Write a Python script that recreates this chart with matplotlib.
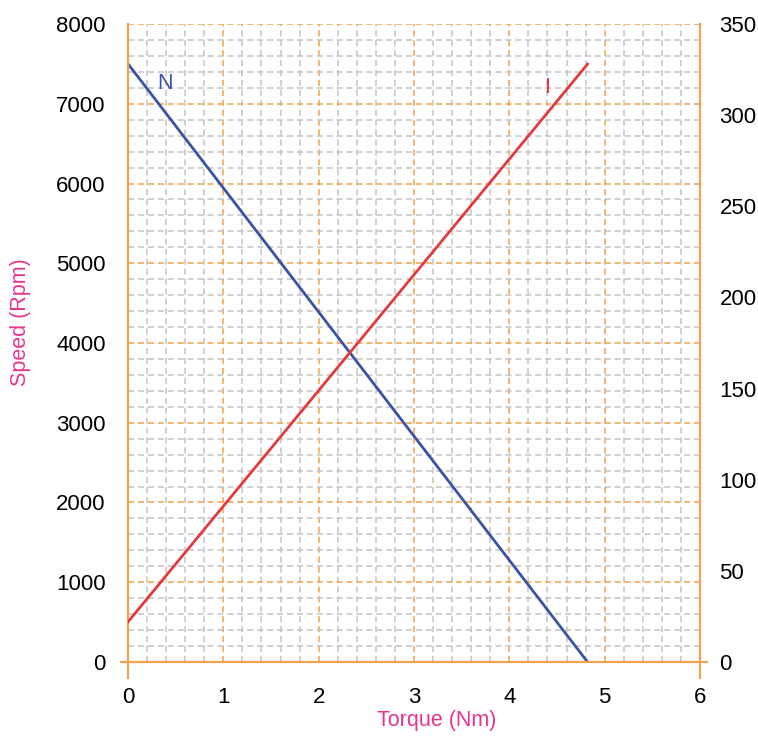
import matplotlib.pyplot as plt
from matplotlib.ticker import MultipleLocator

plt.rcParams['font.family'] = ['Liberation Sans', 'DejaVu Sans']

# data
torque = [0, 4.82]
speed = [7500, 0]
current = [22, 328]
x_ticks = [0, 1, 2, 3, 4, 5, 6]
left_ticks = [0, 1000, 2000, 3000, 4000, 5000, 6000, 7000, 8000]
right_ticks = [0, 50, 100, 150, 200, 250, 300, 350]

orange = '#F0A24E'
pink = '#E8358C'

fig = plt.figure(figsize=(7.58, 7.37), dpi=100)
ax = fig.add_axes([0.1689, 0.1018, 0.7546, 0.8656])
ax2 = ax.twinx()

ax.set_xlim(0, 6)
ax.set_ylim(0, 8000)
ax2.set_ylim(0, 350)

ax.xaxis.set_minor_locator(MultipleLocator(0.2))
ax.yaxis.set_minor_locator(MultipleLocator(200))
ax.grid(which='minor', color='#C4C4C4', linestyle=(0, (4, 2.5)), linewidth=1.1)
ax.grid(which='major', color=orange, linestyle=(0, (4, 2.5)), linewidth=1.1)
ax.set_axisbelow(True)

ax.plot(torque, speed, color='#3A53A4', linewidth=2, zorder=3)
ax2.plot(torque, current, color='#E23B3F', linewidth=2, zorder=3)
ax.text(0.39, 7260, 'N', color='#3A53A4', fontsize=15.5, ha='center', va='center')
ax2.text(4.41, 315, 'I', color='#E23B3F', fontsize=15.5, ha='center', va='center')

ax.set_xticks(x_ticks)
ax.set_yticks(left_ticks)
ax2.set_yticks(right_ticks)
ax.tick_params(axis='x', which='major', labelsize=16, length=12, color=orange, width=1.5, pad=6)
ax.tick_params(axis='y', which='major', labelsize=16, length=6, color=orange, width=1.5, pad=10)
ax2.tick_params(axis='y', which='major', labelsize=16, length=6, color=orange, width=1.5, pad=8)
ax.tick_params(which='minor', length=0)
ax2.tick_params(which='minor', length=0)

for i, t in enumerate(ax.xaxis.get_major_ticks()):
    if i not in (0, len(x_ticks) - 1):
        t.tick1line.set_visible(False)
for i, t in enumerate(ax.yaxis.get_major_ticks()):
    if i != 0:
        t.tick1line.set_visible(False)
for i, t in enumerate(ax2.yaxis.get_major_ticks()):
    if i != 0:
        t.tick2line.set_visible(False)

for a in (ax, ax2):
    a.spines['top'].set_visible(False)
    for s in ('left', 'right', 'bottom'):
        a.spines[s].set_color(orange)
        a.spines[s].set_linewidth(1.5)

ax.set_xlabel('Torque (Nm)', color=pink, fontsize=15.5)
ax.xaxis.set_label_coords(0.54, -0.075)
ax.set_ylabel('Speed (Rpm)', color=pink, fontsize=15.5)
ax.yaxis.set_label_coords(-0.17, 0.533)

fig.savefig('out.png')
